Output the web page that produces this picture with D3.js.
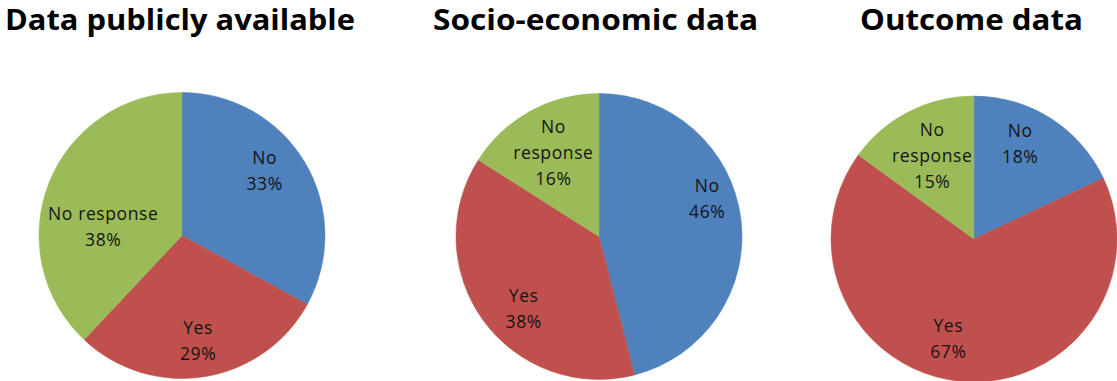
<!DOCTYPE html>
<html>
<head>
<meta charset="utf-8">
<script src="https://cdn.jsdelivr.net/npm/d3@7"></script>
<style>
  html, body { margin: 0; padding: 0; background: #fff; }
  svg { display: block; }
</style>
</head>
<body>
<svg id="chart" width="1117" height="381"></svg>
<script>
// Survey answers, one pie per question
const titles = ["Data publicly available", "Socio-economic data", "Outcome data"];
const categories = ["No", "Yes", "No response"];
const publiclyAvailable = [33, 29, 38];
const socioEconomic = [46, 38, 16];
const outcome = [18, 67, 15];
const series = [publiclyAvailable, socioEconomic, outcome];

// Label wording per pie (narrow slices wrap the category name)
const labelWords = [
  [["No"], ["Yes"], ["No response"]],
  [["No"], ["Yes"], ["No", "response"]],
  [["No"], ["Yes"], ["No", "response"]]
];

// Layout
const radius = 143;
const centers = [[182, 235.5], [599, 236.5], [974, 239]];
const titleX = [180, 595.5, 971.5];
const titleWidth = [350, 325, 223];
const labelRadius = 103;
// small nudges that keep labels clear of slice edges
const labelNudge = [
  [[-6, -12.5], [0, 3.7], [17, 29.4]],
  [[6, -24.6], [8, 12], [4, 6]],
  [[-9, -8], [-16, -3], [5, 8]]
];
const lineHeight = 26;

const color = d3.scaleOrdinal()
  .domain(categories)
  .range(["#4F81BD", "#C0504D", "#9BBB59"]);

const svg = d3.select("#chart");

const pie = d3.pie().sort(null).value(d => d.value);
const arc = d3.arc().innerRadius(0).outerRadius(radius);
const labelArc = d3.arc().innerRadius(labelRadius).outerRadius(labelRadius);

series.forEach((values, i) => {
  const [cx, cy] = centers[i];
  const data = values.map((v, j) => ({ key: categories[j], value: v }));
  const g = svg.append("g").attr("transform", `translate(${cx},${cy})`);

  const arcs = pie(data);

  g.selectAll("path.slice")
    .data(arcs)
    .join("path")
    .attr("class", "slice")
    .attr("d", arc)
    .attr("fill", d => color(d.data.key))
    .attr("stroke", d => color(d.data.key))
    .attr("stroke-width", 0.5);

  const labels = g.selectAll("text.label")
    .data(arcs)
    .join("text")
    .attr("class", "label")
    .attr("font-family", "'Open Sans', sans-serif")
    .attr("font-size", 17.5)
    .attr("letter-spacing", 0.6)
    .attr("fill", "#141414")
    .attr("text-anchor", "middle")
    .attr("transform", (d, j) => {
      const [x, y] = labelArc.centroid(d);
      const [nx, ny] = labelNudge[i][j];
      return `translate(${x + nx},${y + ny})`;
    });

  labels.each(function (d, j) {
    const lines = labelWords[i][j].concat([d3.format(".0f")(d.data.value) + "%"]);
    const n = lines.length;
    d3.select(this).selectAll("tspan")
      .data(lines)
      .join("tspan")
      .attr("x", 0)
      .attr("y", (t, k) => (k - (n - 1) / 2) * lineHeight)
      .attr("dy", "0.36em")
      .text(t => t);
  });

  svg.append("text")
    .attr("x", titleX[i])
    .attr("y", 30)
    .attr("text-anchor", "middle")
    .attr("font-family", "'Open Sans', sans-serif")
    .attr("font-weight", "bold")
    .attr("font-size", 28)
    .attr("textLength", titleWidth[i])
    .attr("lengthAdjust", "spacingAndGlyphs")
    .attr("fill", "#000")
    .text(titles[i]);
});
</script>
</body>
</html>
